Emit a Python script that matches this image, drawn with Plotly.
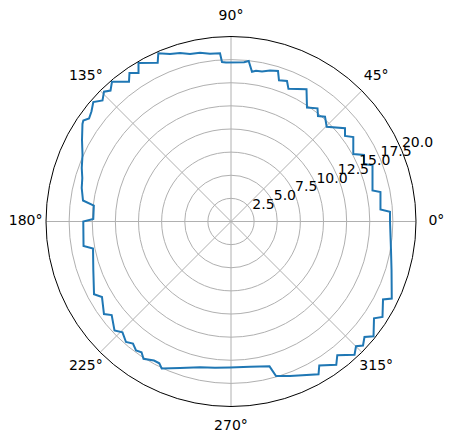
import plotly.graph_objects as go

theta_deg = [0, 3.53, 4.59, 11.16, 12.36, 21.66, 23.38, 26.57, 28.89, 34.64, 36.87, 39.27,
             44.73, 48.11, 50.49, 52.61, 56.31, 60.27, 66.58, 68.27, 71.23, 72.66, 75.52,
             78.32, 80.58, 82.02, 83.71, 85.33, 91.80, 93.23, 93.74, 97.14, 100.41, 103.75,
             106.84, 110.01, 113.37, 114.78, 120.27, 121.92, 124.35, 126.12, 130.40, 132.61,
             134.37, 136.72, 139.05, 141.75, 144.04, 145.64, 146.71, 151.32, 155.88, 160.27,
             163.69, 167.35, 171.92, 173.35, 178.96, 180, 189.43, 191.07, 199.40, 207.99,
             210.34, 216.07, 218.09, 223.10, 225.60, 228.93, 231.22, 233.64, 235.62, 237.49,
             241.01, 243.18, 244.76, 250.80, 258.00, 263.76, 269.61, 277.45, 284.89, 286.24,
             290.90, 299.80, 301.51, 306.31, 308.47, 312.84, 315.07, 316.79, 319.14, 321.17,
             325.90, 327.77, 332.84, 334.41, 343.19, 349.90, 360]
r_vals = [17.19, 17.22, 16.21, 16.47, 15.66, 16.46, 15.66, 16.08, 15.10, 16.07, 15.41, 15.92,
          14.56, 15.22, 14.78, 15.40, 14.81, 16.46, 15.63, 16.35, 16.12, 17.05, 16.86,
          16.56, 16.52, 16.35, 17.46, 17.27, 17.20, 17.27, 18.22, 18.27, 18.54, 18.64,
          19.03, 19.27, 19.81, 18.91, 19.84, 18.91, 19.45, 18.71, 19.85, 19.24,
          19.63, 19.08, 19.71, 19.21, 18.96, 19.34, 19.21, 18.36, 17.59, 17.14,
          16.75, 16.54, 16.16, 14.93, 14.89, 15.97, 16.16, 15.20, 15.78, 16.77,
          16.16, 16.99, 16.39, 17.25, 16.77, 17.28, 16.92, 17.32, 17.13, 17.60,
          17.18, 17.18, 17.57, 16.77, 16.11, 15.91, 15.78, 15.84, 16.20, 17.40,
          17.88, 19.04, 18.26, 19.22, 18.47, 19.64, 19.09, 19.58, 19.08, 19.78,
          18.67, 19.36, 18.47, 19.27, 18.13, 17.57, 17.19]

angle_ticks = [0, 45, 90, 135, 180, 225, 270, 315]
angle_labels = ["0°", "45°", "90°", "135°", "180°", "225°", "270°", "315°"]
angle_label_r = 22.2
radial_ticks = [2.5, 5.0, 7.5, 10.0, 12.5, 15.0, 17.5, 20.0]
radial_labels = ["2.5", "5.0", "7.5", "10.0", "12.5", "15.0", "17.5", "20.0"]
radial_label_angle = 22.5

R_MAX = 20.0
R_OUTER = 22.6          # range of the invisible label layer
W, H = 453, 442
CX, CY = 223.0, 213.5   # centre in figure pixels (from top-left)
PX_PER_UNIT = 185.0 / R_MAX


def domain_for(rmax):
    half = rmax * PX_PER_UNIT
    return dict(x=[(CX - half) / W, (CX + half) / W],
                y=[(H - CY - half) / H, (H - CY + half) / H])


fig = go.Figure()
fig.add_trace(go.Scatterpolar(
    r=r_vals, theta=theta_deg, mode="lines",
    line=dict(color="#1f77b4", width=2),
    showlegend=False, hoverinfo="skip", subplot="polar",
))
fig.add_trace(go.Scatterpolar(
    r=radial_ticks, theta=[radial_label_angle] * len(radial_ticks),
    mode="text", text=radial_labels, textposition="top right",
    textfont=dict(family="DejaVu Sans", size=14, color="black"),
    showlegend=False, hoverinfo="skip", cliponaxis=False, subplot="polar",
))
fig.add_trace(go.Scatterpolar(
    r=[angle_label_r] * len(angle_ticks), theta=angle_ticks,
    mode="text", text=angle_labels, textposition="middle center",
    textfont=dict(family="DejaVu Sans", size=14, color="black"),
    showlegend=False, hoverinfo="skip", cliponaxis=False, subplot="polar2",
))

fig.update_layout(
    width=W, height=H,
    margin=dict(l=0, r=0, t=0, b=0),
    paper_bgcolor="white",
    font=dict(family="DejaVu Sans", size=14, color="black"),
    polar=dict(
        domain=domain_for(R_MAX),
        bgcolor="white",
        radialaxis=dict(
            range=[0, R_MAX], angle=radial_label_angle,
            tickmode="array", tickvals=radial_ticks,
            showticklabels=False,
            showline=False, ticks="", gridcolor="#b0b0b0", gridwidth=1,
        ),
        angularaxis=dict(
            rotation=0, direction="counterclockwise",
            tickmode="array", tickvals=angle_ticks,
            showticklabels=False,
            showline=True, linecolor="black", linewidth=1,
            ticks="",
            gridcolor="#b0b0b0", gridwidth=1,
        ),
    ),
    polar2=dict(
        domain=domain_for(R_OUTER),
        bgcolor="rgba(0,0,0,0)",
        radialaxis=dict(range=[0, R_OUTER], visible=False),
        angularaxis=dict(rotation=0, direction="counterclockwise",
                         showline=False, showgrid=False, showticklabels=False,
                         ticks=""),
    ),
)

fig.write_html("out.html")
